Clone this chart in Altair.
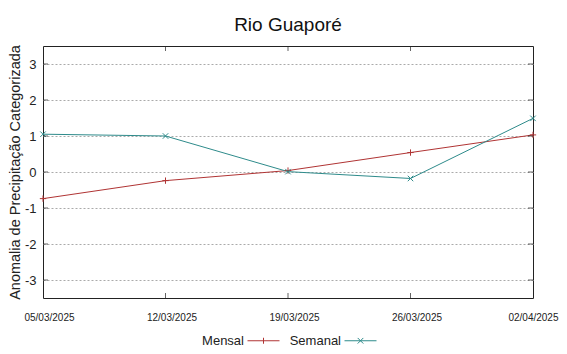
import altair as alt
import pandas as pd

# ---- data ----
dates = ["2025-03-05", "2025-03-12", "2025-03-19", "2025-03-26", "2025-04-02"]
mensal = [-0.74, -0.24, 0.04, 0.54, 1.03]
semanal = [1.05, 1.00, 0.01, -0.18, 1.49]
series = ["Mensal", "Semanal"]
colors = ["#b03434", "#2e8b8b"]
y_ticks = [-3, -2, -1, 0, 1, 2, 3]
x_inner = dates[1:4]

df = pd.DataFrame({
    "date": dates * 2,
    "value": mensal + semanal,
    "serie": ["Mensal"] * len(dates) + ["Semanal"] * len(dates),
})
legend_df = pd.DataFrame({"date": [dates[2]] * 2, "value": [99, 99], "serie": series})
xt_df = pd.DataFrame({"date": x_inner})
yt_df = pd.DataFrame({"value": y_ticks})


def dt(s):
    y, m, d = map(int, s.split("-"))
    return alt.DateTime(year=y, month=m, date=d, utc=True)


FONT = "Liberation Sans"
W, H = 490, 252

x_scale = alt.Scale(type="utc", domain=[dt(dates[0]), dt(dates[-1])])
y_scale = alt.Scale(domain=[-3.5, 3.5], nice=False, zero=False)
color_scale = alt.Scale(domain=series, range=colors)

last_test = "datum.value >= utc(2025, 3, 2)"
x_axis = alt.Axis(values=[dt(d) for d in dates],
                  labelExpr="utcFormat(datum.value, '%d/%m/%Y')",
                  title=None, grid=False, domain=False, ticks=False,
                  labelFlush=False, labelFontSize=10, labelFont=FONT,
                  labelColor="#222", labelPadding=14,
                  labelAlign={"condition": {"test": last_test, "value": "right"}, "value": "center"},
                  labelOffset={"condition": {"test": last_test, "value": 25}, "value": 6},
                  labelOverlap=False)
y_axis = alt.Axis(values=y_ticks, title="Anomalia de Precipitação Categorizada",
                  labelExpr="datum.value < 0 ? '-' + abs(datum.value) : '' + datum.value",
                  titleFont=FONT, titleFontSize=14.5, titleFontWeight="normal",
                  titleColor="#222", titlePadding=2,
                  grid=True, gridDash=[2, 2], gridColor="#aaa", gridWidth=1,
                  domain=False, ticks=False, labelFont=FONT, labelFontSize=13,
                  labelColor="#222", labelPadding=7)

X = alt.X("date:T", scale=x_scale, axis=x_axis)
Y = alt.Y("value:Q", scale=y_scale, axis=y_axis)


def make_legend():
    return alt.Legend(title=None, orient="none", legendX=214, legendY=288,
                      direction="horizontal", labelFont=FONT,
                      labelFontSize=13, labelColor="#222",
                      labelAlign="right", labelOffset=alt.ExprRef(expr="-26"),
                      symbolSize=64, symbolStrokeWidth=1,
                      columnPadding=7)


C = alt.Color("serie:N", scale=color_scale, legend=make_legend())

lines = alt.Chart(df).mark_line(strokeWidth=1).encode(x=X, y=Y, color=C, detail="serie:N")

plus_path = "M-1,0L1,0M0,-1L0,1"
x_path = "M-1,-1L1,1M-1,1L1,-1"
mk_m = alt.Chart(df).transform_filter(alt.datum.serie == "Mensal").mark_point(
    shape=plus_path, filled=False, size=40, strokeWidth=1, opacity=1).encode(x=X, y=Y, color=C)
mk_s = alt.Chart(df).transform_filter(alt.datum.serie == "Semanal").mark_point(
    shape=x_path, filled=False, size=30, strokeWidth=1, opacity=1).encode(x=X, y=Y, color=C)

leg_paths = ["M-4,0L4,0M0,-0.75L0,0.75", "M-4,0L4,0M-0.7,-0.7L0.7,0.7M-0.7,0.7L0.7,-0.7"]

legend_layer = alt.Chart(legend_df).mark_point(filled=False, clip=True, opacity=1).encode(
    x=X, y=Y,
    color=C,
    shape=alt.Shape("serie:N", scale=alt.Scale(domain=series, range=leg_paths),
                    legend=make_legend()),
)

tick_top = alt.Chart(xt_df).mark_tick(orient="vertical", size=5, thickness=1,
                                      color="#222", yOffset=2.5).encode(
    x=X, y=alt.value(0))
tick_bot = alt.Chart(xt_df).mark_tick(orient="vertical", size=5, thickness=1,
                                      color="#222", yOffset=-2.5).encode(
    x=X, y=alt.value(H))
tick_l = alt.Chart(yt_df).mark_tick(orient="horizontal", size=5, thickness=1,
                                    color="#222", xOffset=2.5).encode(
    y=Y, x=alt.value(0))
tick_r = alt.Chart(yt_df).mark_tick(orient="horizontal", size=5, thickness=1,
                                    color="#222", xOffset=-2.5).encode(
    y=Y, x=alt.value(W))

chart = alt.layer(legend_layer, lines, mk_m, mk_s, tick_top, tick_bot, tick_l, tick_r).properties(
    width=W, height=H,
    title=alt.TitleParams("Rio Guaporé", font=FONT, fontSize=19, fontWeight="normal",
                          color="#111", anchor="middle", offset=10),
    autosize=alt.AutoSizeParams(type="none"),
    padding={"left": 35, "top": 38, "right": 26, "bottom": 48},
    background="white",
).configure_view(stroke="#222", strokeWidth=1)

chart.save("out.html", embed_options={"renderer": "svg", "actions": False})
